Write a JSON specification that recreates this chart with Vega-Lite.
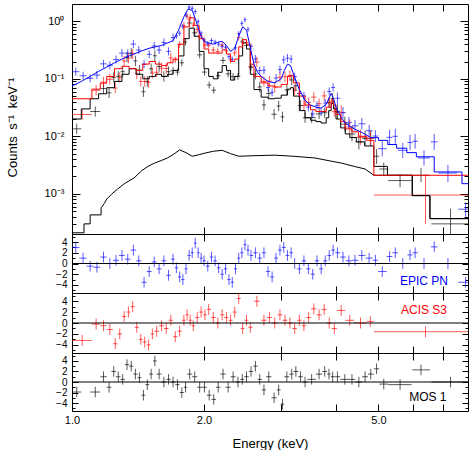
{
"$schema": "https://vega.github.io/schema/vega-lite/v6.json",
"padding": {"left": 5, "top": 3, "right": 5, "bottom": 0},
"background": "white",
"spacing": 0,
"bounds": "flush",
"config": {
 "view": {"stroke": "#000000", "strokeWidth": 1},
 "axis": {"domain": false, "grid": false, "tickColor": "#000000", "tickWidth": 1, "labelColor": "#000000", "labelFont": "Liberation Sans", "labelFontSize": 11, "titleFont": "Liberation Sans", "titleFontWeight": "normal", "titleFontSize": 13, "titleColor": "#000000", "labelOverlap": false, "labelFlush": false, "labelBound": false},
 "text": {"font": "Liberation Sans"}
},
"datasets": {
 "pts": [
{"s":"MOS","e":1.025,"a":1.0,"b":1.05,"y":0.0135,"lo":0.011,"hi":0.0166,"r":-1.9,"rl":-2.9,"rh":-0.9},
{"s":"MOS","e":1.13,"a":1.1,"b":1.16,"y":0.027,"lo":0.022,"hi":0.033,"r":-1.9,"rl":-2.9,"rh":-0.9},
{"s":"MOS","e":1.18,"a":1.16,"b":1.2,"y":0.0677,"lo":0.055,"hi":0.0833,"r":1,"rl":0,"rh":2},
{"s":"MOS","e":1.215,"a":1.2,"b":1.23,"y":0.0569,"lo":0.0463,"hi":0.07,"r":-1,"rl":-2,"rh":0},
{"s":"MOS","e":1.245,"a":1.23,"b":1.26,"y":0.106,"lo":0.086,"hi":0.13,"r":2,"rl":1,"rh":3},
{"s":"MOS","e":1.275,"a":1.26,"b":1.29,"y":0.111,"lo":0.09,"hi":0.136,"r":1,"rl":0,"rh":2},
{"s":"MOS","e":1.305,"a":1.29,"b":1.32,"y":0.133,"lo":0.108,"hi":0.164,"r":0.5,"rl":-0.5,"rh":1.5},
{"s":"MOS","e":1.335,"a":1.32,"b":1.35,"y":0.238,"lo":0.193,"hi":0.292,"r":3.3,"rl":2.3,"rh":4.3},
{"s":"MOS","e":1.365,"a":1.35,"b":1.38,"y":0.279,"lo":0.227,"hi":0.344,"r":3,"rl":2,"rh":4},
{"s":"MOS","e":1.395,"a":1.38,"b":1.41,"y":0.205,"lo":0.166,"hi":0.252,"r":1.5,"rl":0.5,"rh":2.5},
{"s":"MOS","e":1.425,"a":1.41,"b":1.44,"y":0.142,"lo":0.115,"hi":0.174,"r":0.8,"rl":-0.2,"rh":1.8},
{"s":"MOS","e":1.455,"a":1.44,"b":1.47,"y":0.0596,"lo":0.0485,"hi":0.0733,"r":-2.5,"rl":-3.5,"rh":-1.5},
{"s":"MOS","e":1.485,"a":1.47,"b":1.5,"y":0.09,"lo":0.0733,"hi":0.111,"r":-0.5,"rl":-1.5,"rh":0.5},
{"s":"MOS","e":1.515,"a":1.5,"b":1.53,"y":0.15,"lo":0.122,"hi":0.185,"r":1.5,"rl":0.5,"rh":2.5},
{"s":"MOS","e":1.545,"a":1.53,"b":1.56,"y":0.252,"lo":0.205,"hi":0.31,"r":4,"rl":3,"rh":5},
{"s":"MOS","e":1.58,"a":1.56,"b":1.6,"y":0.164,"lo":0.133,"hi":0.201,"r":1.5,"rl":0.5,"rh":2.5},
{"s":"MOS","e":1.62,"a":1.6,"b":1.64,"y":0.11,"lo":0.0894,"hi":0.135,"r":0,"rl":-1,"rh":1},
{"s":"MOS","e":1.66,"a":1.64,"b":1.68,"y":0.133,"lo":0.108,"hi":0.164,"r":0.5,"rl":-0.5,"rh":1.5},
{"s":"MOS","e":1.7,"a":1.68,"b":1.72,"y":0.14,"lo":0.122,"hi":0.161,"r":0,"rl":-1,"rh":1},
{"s":"MOS","e":1.74,"a":1.72,"b":1.76,"y":0.131,"lo":0.114,"hi":0.15,"r":-0.5,"rl":-1.5,"rh":0.5},
{"s":"MOS","e":1.78,"a":1.76,"b":1.8,"y":0.19,"lo":0.165,"hi":0.218,"r":-2,"rl":-3,"rh":-1},
{"s":"MOS","e":1.815,"a":1.8,"b":1.83,"y":0.435,"lo":0.379,"hi":0.5,"r":-1,"rl":-2,"rh":0},
{"s":"MOS","e":1.855,"a":1.83,"b":1.88,"y":0.935,"lo":0.814,"hi":1.073,"r":1.5,"rl":0.5,"rh":2.5},
{"s":"MOS","e":1.905,"a":1.88,"b":1.93,"y":0.631,"lo":0.55,"hi":0.725,"r":1,"rl":0,"rh":2},
{"s":"MOS","e":1.955,"a":1.93,"b":1.98,"y":0.261,"lo":0.227,"hi":0.3,"r":-1,"rl":-2,"rh":0},
{"s":"MOS","e":2.005,"a":1.98,"b":2.03,"y":0.131,"lo":0.114,"hi":0.15,"r":-1,"rl":-2,"rh":0},
{"s":"MOS","e":2.055,"a":2.03,"b":2.08,"y":0.0779,"lo":0.0679,"hi":0.0894,"r":-2.5,"rl":-3.5,"rh":-1.5},
{"s":"MOS","e":2.105,"a":2.08,"b":2.13,"y":0.0634,"lo":0.0552,"hi":0.0728,"r":-3.3,"rl":-4.3,"rh":-2.3},
{"s":"MOS","e":2.155,"a":2.13,"b":2.18,"y":0.113,"lo":0.0985,"hi":0.13,"r":-1,"rl":-2,"rh":0},
{"s":"MOS","e":2.21,"a":2.18,"b":2.24,"y":0.209,"lo":0.182,"hi":0.24,"r":1.5,"rl":0.5,"rh":2.5},
{"s":"MOS","e":2.27,"a":2.24,"b":2.3,"y":0.122,"lo":0.106,"hi":0.14,"r":-1,"rl":-2,"rh":0},
{"s":"MOS","e":2.33,"a":2.3,"b":2.36,"y":0.109,"lo":0.095,"hi":0.125,"r":1,"rl":0,"rh":2},
{"s":"MOS","e":2.39,"a":2.36,"b":2.42,"y":0.11,"lo":0.0958,"hi":0.126,"r":0,"rl":-1,"rh":1},
{"s":"MOS","e":2.445,"a":2.42,"b":2.47,"y":0.45,"lo":0.392,"hi":0.517,"r":0.5,"rl":-0.5,"rh":1.5},
{"s":"MOS","e":2.5,"a":2.47,"b":2.53,"y":0.379,"lo":0.33,"hi":0.435,"r":1,"rl":0,"rh":2},
{"s":"MOS","e":2.56,"a":2.53,"b":2.59,"y":0.158,"lo":0.138,"hi":0.181,"r":2,"rl":1,"rh":3},
{"s":"MOS","e":2.62,"a":2.59,"b":2.65,"y":0.121,"lo":0.098,"hi":0.149,"r":3,"rl":2,"rh":4},
{"s":"MOS","e":2.68,"a":2.65,"b":2.71,"y":0.0721,"lo":0.0586,"hi":0.0887,"r":0.5,"rl":-0.5,"rh":1.5},
{"s":"MOS","e":2.74,"a":2.71,"b":2.77,"y":0.0352,"lo":0.0286,"hi":0.0433,"r":-1.5,"rl":-2.5,"rh":-0.5},
{"s":"MOS","e":2.81,"a":2.77,"b":2.85,"y":0.0554,"lo":0.045,"hi":0.0681,"r":1,"rl":0,"rh":2},
{"s":"MOS","e":2.89,"a":2.85,"b":2.93,"y":0.0242,"lo":0.0197,"hi":0.0298,"r":-3,"rl":-4,"rh":-2},
{"s":"MOS","e":2.96,"a":2.93,"b":2.99,"y":0.0337,"lo":0.0274,"hi":0.0414,"r":-1.5,"rl":-2.5,"rh":-0.5},
{"s":"MOS","e":3.02,"a":2.99,"b":3.05,"y":0.0218,"lo":0.0177,"hi":0.0268,"r":-4.2,"rl":-5.2,"rh":-3.2},
{"s":"MOS","e":3.09,"a":3.05,"b":3.13,"y":0.064,"lo":0.052,"hi":0.0787,"r":1,"rl":0,"rh":2},
{"s":"MOS","e":3.17,"a":3.13,"b":3.2,"y":0.0955,"lo":0.0777,"hi":0.117,"r":1.5,"rl":0.5,"rh":2.5},
{"s":"MOS","e":3.24,"a":3.2,"b":3.28,"y":0.0757,"lo":0.0615,"hi":0.0931,"r":2,"rl":1,"rh":3},
{"s":"MOS","e":3.32,"a":3.28,"b":3.36,"y":0.0344,"lo":0.028,"hi":0.0424,"r":1,"rl":0,"rh":2},
{"s":"MOS","e":3.4,"a":3.36,"b":3.44,"y":0.021,"lo":0.0171,"hi":0.0258,"r":0,"rl":-1,"rh":1},
{"s":"MOS","e":3.52,"a":3.44,"b":3.6,"y":0.0211,"lo":0.0171,"hi":0.0259,"r":0.5,"rl":-0.5,"rh":1.5},
{"s":"MOS","e":3.66,"a":3.6,"b":3.72,"y":0.0246,"lo":0.02,"hi":0.0302,"r":1.5,"rl":0.5,"rh":2.5},
{"s":"MOS","e":3.77,"a":3.72,"b":3.82,"y":0.0257,"lo":0.0209,"hi":0.0317,"r":2,"rl":1,"rh":3},
{"s":"MOS","e":3.855,"a":3.82,"b":3.89,"y":0.0382,"lo":0.0311,"hi":0.047,"r":1.5,"rl":0.5,"rh":2.5},
{"s":"MOS","e":3.93,"a":3.89,"b":3.97,"y":0.0455,"lo":0.037,"hi":0.056,"r":1,"rl":0,"rh":2},
{"s":"MOS","e":4.03,"a":3.97,"b":4.09,"y":0.027,"lo":0.02,"hi":0.0364,"r":1,"rl":0,"rh":2},
{"s":"MOS","e":4.19,"a":4.09,"b":4.28,"y":0.0163,"lo":0.0121,"hi":0.022,"r":0.5,"rl":-0.5,"rh":1.5},
{"s":"MOS","e":4.35,"a":4.28,"b":4.43,"y":0.011,"lo":0.0082,"hi":0.0149,"r":0.5,"rl":-0.5,"rh":1.5},
{"s":"MOS","e":4.51,"a":4.43,"b":4.59,"y":0.008,"lo":0.0059,"hi":0.0108,"r":0,"rl":-1,"rh":1},
{"s":"MOS","e":4.66,"a":4.59,"b":4.73,"y":0.0092,"lo":0.0068,"hi":0.0124,"r":1,"rl":0,"rh":2},
{"s":"MOS","e":4.8,"a":4.73,"b":4.88,"y":0.0092,"lo":0.0068,"hi":0.0124,"r":1.5,"rl":0.5,"rh":2.5},
{"s":"MOS","e":4.95,"a":4.88,"b":5.02,"y":0.0045,"lo":0.0033,"hi":0.006,"r":2.5,"rl":1.5,"rh":3.5},
{"s":"MOS","e":5.14,"a":5.02,"b":5.26,"y":0.0027,"lo":0.0021,"hi":0.0035,"r":-0.4,"rl":-1.4,"rh":0.6},
{"s":"MOS","e":5.6,"a":5.26,"b":5.95,"y":0.0017,"lo":0.0013,"hi":0.0022,"r":-0.5,"rl":-1.5,"rh":0.5},
{"s":"MOS","e":6.25,"a":5.97,"b":6.55,"y":0.0021,"lo":0.0016,"hi":0.0028,"r":2.3,"rl":1.3,"rh":3.3},
{"s":"MOS","e":7.3,"a":6.6,"b":8,"y":0.0003,"lo":0.00012,"hi":0.00055,"r":0,"rl":-1,"rh":1},
{"s":"ACIS","e":1.055,"a":1.0,"b":1.11,"y":0.024,"lo":0.0195,"hi":0.0295,"r":-3.2,"rl":-4.2,"rh":-2.2},
{"s":"ACIS","e":1.135,"a":1.11,"b":1.16,"y":0.0633,"lo":0.0515,"hi":0.0778,"r":-0.2,"rl":-1.2,"rh":0.8},
{"s":"ACIS","e":1.18,"a":1.16,"b":1.2,"y":0.0875,"lo":0.0711,"hi":0.108,"r":-0.5,"rl":-1.5,"rh":0.5},
{"s":"ACIS","e":1.22,"a":1.2,"b":1.24,"y":0.0983,"lo":0.08,"hi":0.121,"r":-1.2,"rl":-2.2,"rh":-0.2},
{"s":"ACIS","e":1.255,"a":1.24,"b":1.27,"y":0.069,"lo":0.056,"hi":0.085,"r":-3.8,"rl":-4.8,"rh":-2.8},
{"s":"ACIS","e":1.285,"a":1.27,"b":1.3,"y":0.106,"lo":0.086,"hi":0.13,"r":-2,"rl":-3,"rh":-1},
{"s":"ACIS","e":1.315,"a":1.3,"b":1.33,"y":0.205,"lo":0.167,"hi":0.252,"r":1.2,"rl":0.2,"rh":2.2},
{"s":"ACIS","e":1.345,"a":1.33,"b":1.36,"y":0.229,"lo":0.186,"hi":0.281,"r":2,"rl":1,"rh":3},
{"s":"ACIS","e":1.375,"a":1.36,"b":1.39,"y":0.27,"lo":0.22,"hi":0.332,"r":3,"rl":2,"rh":4},
{"s":"ACIS","e":1.405,"a":1.39,"b":1.42,"y":0.122,"lo":0.099,"hi":0.15,"r":-0.8,"rl":-1.8,"rh":0.2},
{"s":"ACIS","e":1.435,"a":1.42,"b":1.45,"y":0.09,"lo":0.073,"hi":0.111,"r":-3,"rl":-4,"rh":-2},
{"s":"ACIS","e":1.465,"a":1.45,"b":1.48,"y":0.09,"lo":0.073,"hi":0.111,"r":-3.5,"rl":-4.5,"rh":-2.5},
{"s":"ACIS","e":1.495,"a":1.48,"b":1.51,"y":0.0865,"lo":0.07,"hi":0.106,"r":-4,"rl":-5,"rh":-3},
{"s":"ACIS","e":1.525,"a":1.51,"b":1.54,"y":0.126,"lo":0.102,"hi":0.155,"r":-2,"rl":-3,"rh":-1},
{"s":"ACIS","e":1.56,"a":1.54,"b":1.58,"y":0.13,"lo":0.106,"hi":0.16,"r":-1.5,"rl":-2.5,"rh":-0.5},
{"s":"ACIS","e":1.6,"a":1.58,"b":1.62,"y":0.153,"lo":0.125,"hi":0.189,"r":-0.5,"rl":-1.5,"rh":0.5},
{"s":"ACIS","e":1.64,"a":1.62,"b":1.66,"y":0.151,"lo":0.123,"hi":0.186,"r":-1,"rl":-2,"rh":0},
{"s":"ACIS","e":1.68,"a":1.66,"b":1.7,"y":0.231,"lo":0.188,"hi":0.284,"r":0.5,"rl":-0.5,"rh":1.5},
{"s":"ACIS","e":1.72,"a":1.7,"b":1.74,"y":0.213,"lo":0.187,"hi":0.242,"r":-2.5,"rl":-3.5,"rh":-1.5},
{"s":"ACIS","e":1.76,"a":1.74,"b":1.78,"y":0.397,"lo":0.35,"hi":0.451,"r":-1.5,"rl":-2.5,"rh":-0.5},
{"s":"ACIS","e":1.8,"a":1.78,"b":1.815,"y":0.852,"lo":0.751,"hi":0.967,"r":0.5,"rl":-0.5,"rh":1.5},
{"s":"ACIS","e":1.83,"a":1.815,"b":1.845,"y":1.22,"lo":1.075,"hi":1.385,"r":1.5,"rl":0.5,"rh":2.5},
{"s":"ACIS","e":1.86,"a":1.845,"b":1.875,"y":1.161,"lo":1.023,"hi":1.318,"r":0.5,"rl":-0.5,"rh":1.5},
{"s":"ACIS","e":1.89,"a":1.875,"b":1.91,"y":0.854,"lo":0.753,"hi":0.97,"r":-0.5,"rl":-1.5,"rh":0.5},
{"s":"ACIS","e":1.93,"a":1.91,"b":1.95,"y":0.726,"lo":0.64,"hi":0.824,"r":1,"rl":0,"rh":2},
{"s":"ACIS","e":1.97,"a":1.95,"b":1.99,"y":0.556,"lo":0.49,"hi":0.632,"r":2,"rl":1,"rh":3},
{"s":"ACIS","e":2.01,"a":1.99,"b":2.03,"y":0.387,"lo":0.341,"hi":0.439,"r":1.5,"rl":0.5,"rh":2.5},
{"s":"ACIS","e":2.05,"a":2.03,"b":2.075,"y":0.384,"lo":0.338,"hi":0.436,"r":2.5,"rl":1.5,"rh":3.5},
{"s":"ACIS","e":2.1,"a":2.075,"b":2.125,"y":0.318,"lo":0.28,"hi":0.361,"r":1,"rl":0,"rh":2},
{"s":"ACIS","e":2.15,"a":2.125,"b":2.175,"y":0.3,"lo":0.264,"hi":0.341,"r":0,"rl":-1,"rh":1},
{"s":"ACIS","e":2.2,"a":2.175,"b":2.225,"y":0.387,"lo":0.341,"hi":0.439,"r":1.5,"rl":0.5,"rh":2.5},
{"s":"ACIS","e":2.25,"a":2.225,"b":2.275,"y":0.306,"lo":0.27,"hi":0.348,"r":1,"rl":0,"rh":2},
{"s":"ACIS","e":2.3,"a":2.275,"b":2.325,"y":0.213,"lo":0.188,"hi":0.242,"r":0.5,"rl":-0.5,"rh":1.5},
{"s":"ACIS","e":2.35,"a":2.325,"b":2.375,"y":0.283,"lo":0.25,"hi":0.322,"r":2,"rl":1,"rh":3},
{"s":"ACIS","e":2.4,"a":2.375,"b":2.425,"y":0.526,"lo":0.464,"hi":0.597,"r":4.5,"rl":3.5,"rh":5.5},
{"s":"ACIS","e":2.45,"a":2.425,"b":2.475,"y":0.423,"lo":0.373,"hi":0.48,"r":-1,"rl":-2,"rh":0},
{"s":"ACIS","e":2.5,"a":2.475,"b":2.525,"y":0.426,"lo":0.375,"hi":0.483,"r":0.5,"rl":-0.5,"rh":1.5},
{"s":"ACIS","e":2.55,"a":2.525,"b":2.58,"y":0.163,"lo":0.143,"hi":0.185,"r":-0.8,"rl":-1.8,"rh":0.2},
{"s":"ACIS","e":2.64,"a":2.6,"b":2.68,"y":0.196,"lo":0.159,"hi":0.241,"r":4,"rl":3,"rh":5},
{"s":"ACIS","e":2.74,"a":2.7,"b":2.78,"y":0.0898,"lo":0.073,"hi":0.11,"r":0.5,"rl":-0.5,"rh":1.5},
{"s":"ACIS","e":2.82,"a":2.78,"b":2.86,"y":0.091,"lo":0.074,"hi":0.112,"r":1,"rl":0,"rh":2},
{"s":"ACIS","e":2.9,"a":2.86,"b":2.94,"y":0.072,"lo":0.0585,"hi":0.0886,"r":0,"rl":-1,"rh":1},
{"s":"ACIS","e":2.98,"a":2.94,"b":3.02,"y":0.106,"lo":0.0865,"hi":0.131,"r":1.5,"rl":0.5,"rh":2.5},
{"s":"ACIS","e":3.06,"a":3.02,"b":3.1,"y":0.109,"lo":0.0883,"hi":0.134,"r":0.5,"rl":-0.5,"rh":1.5},
{"s":"ACIS","e":3.14,"a":3.1,"b":3.18,"y":0.114,"lo":0.093,"hi":0.14,"r":0,"rl":-1,"rh":1},
{"s":"ACIS","e":3.22,"a":3.18,"b":3.26,"y":0.0634,"lo":0.0515,"hi":0.078,"r":-1,"rl":-2,"rh":0},
{"s":"ACIS","e":3.3,"a":3.26,"b":3.34,"y":0.0555,"lo":0.0451,"hi":0.0682,"r":0.5,"rl":-0.5,"rh":1.5},
{"s":"ACIS","e":3.38,"a":3.34,"b":3.42,"y":0.0343,"lo":0.0279,"hi":0.0422,"r":-0.5,"rl":-1.5,"rh":0.5},
{"s":"ACIS","e":3.465,"a":3.42,"b":3.51,"y":0.0386,"lo":0.0314,"hi":0.0475,"r":1,"rl":0,"rh":2},
{"s":"ACIS","e":3.56,"a":3.51,"b":3.61,"y":0.048,"lo":0.039,"hi":0.059,"r":2.6,"rl":1.6,"rh":3.6},
{"s":"ACIS","e":3.66,"a":3.61,"b":3.71,"y":0.0369,"lo":0.03,"hi":0.0453,"r":1.5,"rl":0.5,"rh":2.5},
{"s":"ACIS","e":3.76,"a":3.71,"b":3.81,"y":0.0504,"lo":0.041,"hi":0.062,"r":2.5,"rl":1.5,"rh":3.5},
{"s":"ACIS","e":3.86,"a":3.81,"b":3.91,"y":0.0386,"lo":0.0314,"hi":0.0475,"r":0,"rl":-1,"rh":1},
{"s":"ACIS","e":3.965,"a":3.91,"b":4.02,"y":0.0268,"lo":0.0218,"hi":0.033,"r":-1,"rl":-2,"rh":0},
{"s":"ACIS","e":4.11,"a":4.02,"b":4.2,"y":0.0259,"lo":0.0192,"hi":0.0349,"r":2.3,"rl":1.3,"rh":3.3},
{"s":"ACIS","e":4.3,"a":4.2,"b":4.4,"y":0.0145,"lo":0.0108,"hi":0.0196,"r":0.5,"rl":-0.5,"rh":1.5},
{"s":"ACIS","e":4.55,"a":4.4,"b":4.7,"y":0.0096,"lo":0.0071,"hi":0.013,"r":0,"rl":-1,"rh":1},
{"s":"ACIS","e":4.79,"a":4.7,"b":4.88,"y":0.0093,"lo":0.0069,"hi":0.0125,"r":0.3,"rl":-0.7,"rh":1.3},
{"s":"ACIS","e":6.4,"a":4.88,"b":8,"y":0.00095,"lo":0.0003,"hi":0.0022,"r":-1.6,"rl":-2.6,"rh":-0.6},
{"s":"PN","e":1.02,"a":1.0,"b":1.04,"y":0.133,"lo":0.113,"hi":0.156,"r":3,"rl":2,"rh":4},
{"s":"PN","e":1.06,"a":1.04,"b":1.08,"y":0.113,"lo":0.096,"hi":0.133,"r":1,"rl":0,"rh":2},
{"s":"PN","e":1.1,"a":1.08,"b":1.12,"y":0.102,"lo":0.087,"hi":0.119,"r":-0.5,"rl":-1.5,"rh":0.5},
{"s":"PN","e":1.14,"a":1.12,"b":1.16,"y":0.116,"lo":0.099,"hi":0.136,"r":-0.7,"rl":-1.7,"rh":0.3},
{"s":"PN","e":1.18,"a":1.16,"b":1.2,"y":0.182,"lo":0.155,"hi":0.214,"r":1.2,"rl":0.2,"rh":2.2},
{"s":"PN","e":1.22,"a":1.2,"b":1.24,"y":0.172,"lo":0.146,"hi":0.202,"r":0,"rl":-1,"rh":1},
{"s":"PN","e":1.26,"a":1.24,"b":1.28,"y":0.216,"lo":0.184,"hi":0.254,"r":0.6,"rl":-0.4,"rh":1.6},
{"s":"PN","e":1.3,"a":1.28,"b":1.32,"y":0.28,"lo":0.238,"hi":0.329,"r":1.5,"rl":0.5,"rh":2.5},
{"s":"PN","e":1.34,"a":1.32,"b":1.36,"y":0.278,"lo":0.236,"hi":0.326,"r":0.8,"rl":-0.2,"rh":1.8},
{"s":"PN","e":1.38,"a":1.36,"b":1.4,"y":0.401,"lo":0.341,"hi":0.471,"r":2.5,"rl":1.5,"rh":3.5},
{"s":"PN","e":1.42,"a":1.4,"b":1.44,"y":0.316,"lo":0.269,"hi":0.372,"r":0.5,"rl":-0.5,"rh":1.5},
{"s":"PN","e":1.46,"a":1.44,"b":1.48,"y":0.18,"lo":0.153,"hi":0.211,"r":-3.5,"rl":-4.5,"rh":-2.5},
{"s":"PN","e":1.5,"a":1.48,"b":1.52,"y":0.267,"lo":0.227,"hi":0.314,"r":-1.5,"rl":-2.5,"rh":-0.5},
{"s":"PN","e":1.54,"a":1.52,"b":1.56,"y":0.374,"lo":0.318,"hi":0.439,"r":0.3,"rl":-0.7,"rh":1.3},
{"s":"PN","e":1.58,"a":1.56,"b":1.6,"y":0.317,"lo":0.27,"hi":0.372,"r":-1,"rl":-2,"rh":0},
{"s":"PN","e":1.62,"a":1.6,"b":1.64,"y":0.429,"lo":0.365,"hi":0.504,"r":0.5,"rl":-0.5,"rh":1.5},
{"s":"PN","e":1.66,"a":1.64,"b":1.68,"y":0.3,"lo":0.255,"hi":0.353,"r":-2.2,"rl":-3.2,"rh":-1.2},
{"s":"PN","e":1.7,"a":1.68,"b":1.715,"y":0.523,"lo":0.445,"hi":0.615,"r":0.8,"rl":-0.2,"rh":1.8},
{"s":"PN","e":1.73,"a":1.715,"b":1.745,"y":0.556,"lo":0.501,"hi":0.617,"r":-0.8,"rl":-1.8,"rh":0.2},
{"s":"PN","e":1.76,"a":1.745,"b":1.775,"y":0.618,"lo":0.557,"hi":0.685,"r":-2.5,"rl":-3.5,"rh":-1.5},
{"s":"PN","e":1.79,"a":1.775,"b":1.805,"y":0.806,"lo":0.727,"hi":0.894,"r":-3,"rl":-4,"rh":-2},
{"s":"PN","e":1.82,"a":1.805,"b":1.835,"y":1.285,"lo":1.159,"hi":1.425,"r":-1,"rl":-2,"rh":0},
{"s":"PN","e":1.85,"a":1.835,"b":1.865,"y":1.765,"lo":1.59,"hi":1.96,"r":1.5,"rl":0.5,"rh":2.5},
{"s":"PN","e":1.88,"a":1.865,"b":1.895,"y":1.68,"lo":1.52,"hi":1.87,"r":2,"rl":1,"rh":3},
{"s":"PN","e":1.91,"a":1.895,"b":1.925,"y":1.48,"lo":1.33,"hi":1.64,"r":3.8,"rl":2.8,"rh":4.8},
{"s":"PN","e":1.94,"a":1.925,"b":1.955,"y":0.984,"lo":0.887,"hi":1.091,"r":2,"rl":1,"rh":3},
{"s":"PN","e":1.97,"a":1.955,"b":1.985,"y":0.624,"lo":0.563,"hi":0.692,"r":1,"rl":0,"rh":2},
{"s":"PN","e":2.0,"a":1.985,"b":2.02,"y":0.474,"lo":0.427,"hi":0.526,"r":0.5,"rl":-0.5,"rh":1.5},
{"s":"PN","e":2.04,"a":2.02,"b":2.06,"y":0.405,"lo":0.365,"hi":0.449,"r":-0.5,"rl":-1.5,"rh":0.5},
{"s":"PN","e":2.08,"a":2.06,"b":2.1,"y":0.462,"lo":0.417,"hi":0.512,"r":1.2,"rl":0.2,"rh":2.2},
{"s":"PN","e":2.12,"a":2.1,"b":2.14,"y":0.434,"lo":0.391,"hi":0.481,"r":0.5,"rl":-0.5,"rh":1.5},
{"s":"PN","e":2.16,"a":2.14,"b":2.18,"y":0.399,"lo":0.36,"hi":0.443,"r":-0.8,"rl":-1.8,"rh":0.2},
{"s":"PN","e":2.2,"a":2.18,"b":2.22,"y":0.366,"lo":0.33,"hi":0.406,"r":-2,"rl":-3,"rh":-1},
{"s":"PN","e":2.24,"a":2.22,"b":2.26,"y":0.355,"lo":0.32,"hi":0.394,"r":-1,"rl":-2,"rh":0},
{"s":"PN","e":2.28,"a":2.26,"b":2.3,"y":0.243,"lo":0.219,"hi":0.27,"r":-3,"rl":-4,"rh":-2},
{"s":"PN","e":2.32,"a":2.3,"b":2.34,"y":0.22,"lo":0.198,"hi":0.244,"r":-3.5,"rl":-4.5,"rh":-2.5},
{"s":"PN","e":2.36,"a":2.34,"b":2.38,"y":0.345,"lo":0.311,"hi":0.382,"r":-1,"rl":-2,"rh":0},
{"s":"PN","e":2.4,"a":2.38,"b":2.42,"y":0.61,"lo":0.55,"hi":0.676,"r":1,"rl":0,"rh":2},
{"s":"PN","e":2.44,"a":2.42,"b":2.46,"y":0.923,"lo":0.832,"hi":1.023,"r":2,"rl":1,"rh":3},
{"s":"PN","e":2.48,"a":2.46,"b":2.5,"y":1.063,"lo":0.959,"hi":1.179,"r":3.5,"rl":2.5,"rh":4.5},
{"s":"PN","e":2.52,"a":2.5,"b":2.54,"y":0.726,"lo":0.655,"hi":0.805,"r":2.5,"rl":1.5,"rh":3.5},
{"s":"PN","e":2.56,"a":2.54,"b":2.59,"y":0.369,"lo":0.333,"hi":0.409,"r":1.5,"rl":0.5,"rh":2.5},
{"s":"PN","e":2.62,"a":2.59,"b":2.65,"y":0.221,"lo":0.188,"hi":0.26,"r":2,"rl":1,"rh":3},
{"s":"PN","e":2.68,"a":2.65,"b":2.71,"y":0.139,"lo":0.118,"hi":0.163,"r":1,"rl":0,"rh":2},
{"s":"PN","e":2.74,"a":2.71,"b":2.77,"y":0.141,"lo":0.12,"hi":0.166,"r":2,"rl":1,"rh":3},
{"s":"PN","e":2.8,"a":2.77,"b":2.83,"y":0.0707,"lo":0.0601,"hi":0.083,"r":-1.5,"rl":-2.5,"rh":-0.5},
{"s":"PN","e":2.86,"a":2.83,"b":2.89,"y":0.0581,"lo":0.0494,"hi":0.0683,"r":-2.5,"rl":-3.5,"rh":-1.5},
{"s":"PN","e":2.92,"a":2.89,"b":2.95,"y":0.103,"lo":0.088,"hi":0.121,"r":1,"rl":0,"rh":2},
{"s":"PN","e":2.98,"a":2.95,"b":3.01,"y":0.145,"lo":0.124,"hi":0.171,"r":2.5,"rl":1.5,"rh":3.5},
{"s":"PN","e":3.04,"a":3.01,"b":3.07,"y":0.214,"lo":0.182,"hi":0.252,"r":3,"rl":2,"rh":4},
{"s":"PN","e":3.1,"a":3.07,"b":3.13,"y":0.229,"lo":0.195,"hi":0.27,"r":1.5,"rl":0.5,"rh":2.5},
{"s":"PN","e":3.16,"a":3.13,"b":3.19,"y":0.221,"lo":0.188,"hi":0.259,"r":2,"rl":1,"rh":3},
{"s":"PN","e":3.22,"a":3.19,"b":3.26,"y":0.109,"lo":0.0928,"hi":0.128,"r":0,"rl":-1,"rh":1},
{"s":"PN","e":3.3,"a":3.26,"b":3.34,"y":0.0553,"lo":0.0471,"hi":0.065,"r":-1,"rl":-2,"rh":0},
{"s":"PN","e":3.38,"a":3.34,"b":3.42,"y":0.0505,"lo":0.043,"hi":0.0593,"r":0.5,"rl":-0.5,"rh":1.5},
{"s":"PN","e":3.46,"a":3.42,"b":3.5,"y":0.0322,"lo":0.0274,"hi":0.0378,"r":-1,"rl":-2,"rh":0},
{"s":"PN","e":3.54,"a":3.5,"b":3.58,"y":0.0245,"lo":0.0208,"hi":0.0288,"r":-2,"rl":-3,"rh":-1},
{"s":"PN","e":3.62,"a":3.58,"b":3.66,"y":0.0345,"lo":0.0293,"hi":0.0405,"r":0.5,"rl":-0.5,"rh":1.5},
{"s":"PN","e":3.7,"a":3.66,"b":3.74,"y":0.0264,"lo":0.0225,"hi":0.031,"r":-1,"rl":-2,"rh":0},
{"s":"PN","e":3.78,"a":3.74,"b":3.82,"y":0.0379,"lo":0.0323,"hi":0.0446,"r":0.5,"rl":-0.5,"rh":1.5},
{"s":"PN","e":3.86,"a":3.82,"b":3.9,"y":0.0601,"lo":0.0512,"hi":0.0707,"r":1.5,"rl":0.5,"rh":2.5},
{"s":"PN","e":3.94,"a":3.9,"b":3.98,"y":0.0706,"lo":0.0601,"hi":0.083,"r":2.5,"rl":1.5,"rh":3.5},
{"s":"PN","e":4.03,"a":3.98,"b":4.09,"y":0.046,"lo":0.0365,"hi":0.0579,"r":2,"rl":1,"rh":3},
{"s":"PN","e":4.15,"a":4.09,"b":4.21,"y":0.0257,"lo":0.0204,"hi":0.0324,"r":1.2,"rl":0.2,"rh":2.2},
{"s":"PN","e":4.28,"a":4.21,"b":4.35,"y":0.0173,"lo":0.0137,"hi":0.0218,"r":0.5,"rl":-0.5,"rh":1.5},
{"s":"PN","e":4.42,"a":4.35,"b":4.5,"y":0.0153,"lo":0.0121,"hi":0.0192,"r":0.6,"rl":-0.4,"rh":1.6},
{"s":"PN","e":4.58,"a":4.5,"b":4.67,"y":0.0165,"lo":0.0131,"hi":0.0208,"r":1.5,"rl":0.5,"rh":2.5},
{"s":"PN","e":4.76,"a":4.67,"b":4.85,"y":0.0125,"lo":0.0099,"hi":0.0157,"r":1,"rl":0,"rh":2},
{"s":"PN","e":4.92,"a":4.85,"b":4.99,"y":0.0101,"lo":0.008,"hi":0.0127,"r":0.6,"rl":-0.4,"rh":1.6},
{"s":"PN","e":5.1,"a":4.99,"b":5.22,"y":0.0061,"lo":0.0045,"hi":0.0082,"r":-1.5,"rl":-2.5,"rh":-0.5},
{"s":"PN","e":5.3,"a":5.22,"b":5.38,"y":0.0096,"lo":0.0071,"hi":0.013,"r":1.3,"rl":0.3,"rh":2.3},
{"s":"PN","e":5.46,"a":5.38,"b":5.54,"y":0.01,"lo":0.0074,"hi":0.0135,"r":2,"rl":1,"rh":3},
{"s":"PN","e":5.68,"a":5.54,"b":5.82,"y":0.0057,"lo":0.0042,"hi":0.0077,"r":0,"rl":-1,"rh":1},
{"s":"PN","e":5.9,"a":5.82,"b":5.98,"y":0.0078,"lo":0.0058,"hi":0.0106,"r":1.6,"rl":0.6,"rh":2.6},
{"s":"PN","e":6.06,"a":5.98,"b":6.15,"y":0.0082,"lo":0.0061,"hi":0.011,"r":2,"rl":1,"rh":3},
{"s":"PN","e":6.35,"a":6.15,"b":6.55,"y":0.0042,"lo":0.0031,"hi":0.0057,"r":0,"rl":-1,"rh":1},
{"s":"PN","e":6.7,"a":6.58,"b":6.82,"y":0.008,"lo":0.0058,"hi":0.011,"r":3.1,"rl":2.1,"rh":4.1},
{"s":"PN","e":7.2,"a":6.85,"b":7.55,"y":0.0023,"lo":0.0016,"hi":0.0032,"r":0,"rl":-1,"rh":1},
{"s":"PN","e":7.9,"a":7.6,"b":8,"y":0.00054,"lo":0.0004,"hi":0.0007,"r":-3.5,"rl":-4.5,"rh":-2.5}
 ],
 "mod": [
{"s":"MOS","e":1.0,"v":0.02},{"s":"MOS","e":1.05,"v":0.03},{"s":"MOS","e":1.1,"v":0.045},{"s":"MOS","e":1.15,"v":0.055},{"s":"MOS","e":1.2,"v":0.07},{"s":"MOS","e":1.25,"v":0.09},{"s":"MOS","e":1.3,"v":0.12},{"s":"MOS","e":1.35,"v":0.15},{"s":"MOS","e":1.4,"v":0.12},{"s":"MOS","e":1.45,"v":0.1},{"s":"MOS","e":1.5,"v":0.11},{"s":"MOS","e":1.55,"v":0.12},{"s":"MOS","e":1.6,"v":0.11},{"s":"MOS","e":1.65,"v":0.12},{"s":"MOS","e":1.7,"v":0.14},{"s":"MOS","e":1.75,"v":0.25},{"s":"MOS","e":1.8,"v":0.5},{"s":"MOS","e":1.85,"v":0.76},{"s":"MOS","e":1.9,"v":0.55},{"s":"MOS","e":1.95,"v":0.3},{"s":"MOS","e":2.0,"v":0.15},{"s":"MOS","e":2.05,"v":0.11},{"s":"MOS","e":2.1,"v":0.1},{"s":"MOS","e":2.15,"v":0.13},{"s":"MOS","e":2.2,"v":0.17},{"s":"MOS","e":2.25,"v":0.14},{"s":"MOS","e":2.3,"v":0.095},{"s":"MOS","e":2.35,"v":0.11},{"s":"MOS","e":2.4,"v":0.25},{"s":"MOS","e":2.45,"v":0.42},{"s":"MOS","e":2.5,"v":0.33},{"s":"MOS","e":2.55,"v":0.12},{"s":"MOS","e":2.6,"v":0.065},{"s":"MOS","e":2.7,"v":0.048},{"s":"MOS","e":2.8,"v":0.045},{"s":"MOS","e":2.9,"v":0.046},{"s":"MOS","e":3.0,"v":0.052},{"s":"MOS","e":3.1,"v":0.066},{"s":"MOS","e":3.15,"v":0.07},{"s":"MOS","e":3.2,"v":0.05},{"s":"MOS","e":3.3,"v":0.028},{"s":"MOS","e":3.4,"v":0.021},{"s":"MOS","e":3.5,"v":0.019},{"s":"MOS","e":3.6,"v":0.018},{"s":"MOS","e":3.7,"v":0.017},{"s":"MOS","e":3.8,"v":0.021},{"s":"MOS","e":3.85,"v":0.028},{"s":"MOS","e":3.9,"v":0.037},{"s":"MOS","e":3.95,"v":0.03},{"s":"MOS","e":4.0,"v":0.02},{"s":"MOS","e":4.1,"v":0.014},{"s":"MOS","e":4.2,"v":0.011},{"s":"MOS","e":4.3,"v":0.0095},{"s":"MOS","e":4.45,"v":0.008},{"s":"MOS","e":4.65,"v":0.0068},{"s":"MOS","e":4.88,"v":0.003},{"s":"MOS","e":5.24,"v":0.0021},{"s":"MOS","e":5.97,"v":0.00093},{"s":"MOS","e":6.55,"v":0.00037},{"s":"MOS","e":8.0,"v":0.00037},
{"s":"ACIS","e":1.0,"v":0.045},{"s":"ACIS","e":1.11,"v":0.066},{"s":"ACIS","e":1.16,"v":0.084},{"s":"ACIS","e":1.2,"v":0.11},{"s":"ACIS","e":1.25,"v":0.15},{"s":"ACIS","e":1.3,"v":0.165},{"s":"ACIS","e":1.35,"v":0.15},{"s":"ACIS","e":1.4,"v":0.14},{"s":"ACIS","e":1.45,"v":0.18},{"s":"ACIS","e":1.5,"v":0.2},{"s":"ACIS","e":1.55,"v":0.18},{"s":"ACIS","e":1.6,"v":0.17},{"s":"ACIS","e":1.65,"v":0.19},{"s":"ACIS","e":1.7,"v":0.22},{"s":"ACIS","e":1.75,"v":0.4},{"s":"ACIS","e":1.8,"v":0.8},{"s":"ACIS","e":1.85,"v":1.15},{"s":"ACIS","e":1.9,"v":0.85},{"s":"ACIS","e":1.95,"v":0.5},{"s":"ACIS","e":2.0,"v":0.33},{"s":"ACIS","e":2.05,"v":0.28},{"s":"ACIS","e":2.1,"v":0.28},{"s":"ACIS","e":2.2,"v":0.32},{"s":"ACIS","e":2.25,"v":0.27},{"s":"ACIS","e":2.3,"v":0.2},{"s":"ACIS","e":2.35,"v":0.22},{"s":"ACIS","e":2.4,"v":0.36},{"s":"ACIS","e":2.45,"v":0.48},{"s":"ACIS","e":2.5,"v":0.4},{"s":"ACIS","e":2.55,"v":0.18},{"s":"ACIS","e":2.6,"v":0.11},{"s":"ACIS","e":2.7,"v":0.085},{"s":"ACIS","e":2.8,"v":0.075},{"s":"ACIS","e":2.9,"v":0.072},{"s":"ACIS","e":3.0,"v":0.08},{"s":"ACIS","e":3.1,"v":0.11},{"s":"ACIS","e":3.15,"v":0.115},{"s":"ACIS","e":3.2,"v":0.085},{"s":"ACIS","e":3.3,"v":0.05},{"s":"ACIS","e":3.4,"v":0.035},{"s":"ACIS","e":3.5,"v":0.029},{"s":"ACIS","e":3.6,"v":0.027},{"s":"ACIS","e":3.7,"v":0.027},{"s":"ACIS","e":3.8,"v":0.032},{"s":"ACIS","e":3.9,"v":0.043},{"s":"ACIS","e":3.95,"v":0.035},{"s":"ACIS","e":4.0,"v":0.024},{"s":"ACIS","e":4.1,"v":0.018},{"s":"ACIS","e":4.2,"v":0.0135},{"s":"ACIS","e":4.35,"v":0.012},{"s":"ACIS","e":4.5,"v":0.01},{"s":"ACIS","e":4.7,"v":0.0085},{"s":"ACIS","e":4.88,"v":0.0021},{"s":"ACIS","e":8.0,"v":0.0021}
 ],
 "modb": [
{"e":1.0,"v":0.075},{"e":1.05,"v":0.09},{"e":1.1,"v":0.11},{"e":1.15,"v":0.135},{"e":1.2,"v":0.16},{"e":1.25,"v":0.19},{"e":1.3,"v":0.22},{"e":1.35,"v":0.25},{"e":1.4,"v":0.28},{"e":1.45,"v":0.31},{"e":1.5,"v":0.34},{"e":1.55,"v":0.36},{"e":1.6,"v":0.38},{"e":1.65,"v":0.42},{"e":1.7,"v":0.46},{"e":1.75,"v":0.7},{"e":1.8,"v":1.2},{"e":1.84,"v":1.65},{"e":1.88,"v":1.55},{"e":1.92,"v":1.0},{"e":1.96,"v":0.6},{"e":2.0,"v":0.45},{"e":2.05,"v":0.42},{"e":2.1,"v":0.4},{"e":2.15,"v":0.43},{"e":2.2,"v":0.45},{"e":2.25,"v":0.38},{"e":2.3,"v":0.3},{"e":2.35,"v":0.34},{"e":2.4,"v":0.55},{"e":2.45,"v":0.8},{"e":2.5,"v":0.7},{"e":2.55,"v":0.35},{"e":2.6,"v":0.18},{"e":2.65,"v":0.13},{"e":2.7,"v":0.11},{"e":2.8,"v":0.09},{"e":2.9,"v":0.085},{"e":3.0,"v":0.1},{"e":3.05,"v":0.14},{"e":3.1,"v":0.18},{"e":3.15,"v":0.17},{"e":3.2,"v":0.12},{"e":3.3,"v":0.065},{"e":3.4,"v":0.042},{"e":3.5,"v":0.035},{"e":3.6,"v":0.032},{"e":3.7,"v":0.031},{"e":3.8,"v":0.036},{"e":3.85,"v":0.045},{"e":3.9,"v":0.056},{"e":3.95,"v":0.045},{"e":4.0,"v":0.032},{"e":4.1,"v":0.022},{"e":4.2,"v":0.017},{"e":4.3,"v":0.015},{"e":4.4,"v":0.0135},{"e":4.6,"v":0.0115},{"e":4.8,"v":0.0095},{"e":5.0,"v":0.0095},{"e":5.0,"v":0.0085},{"e":5.25,"v":0.0085},{"e":5.25,"v":0.0072},{"e":5.5,"v":0.0072},{"e":5.5,"v":0.0062},{"e":5.8,"v":0.0062},{"e":5.8,"v":0.0052},{"e":6.1,"v":0.0052},{"e":6.1,"v":0.0044},{"e":6.7,"v":0.0044},{"e":6.7,"v":0.0024},{"e":7.75,"v":0.0024},{"e":7.75,"v":0.0015},{"e":8.0,"v":0.0015}
 ],
 "comp": [
{"e":1.0,"v":0.00021},{"e":1.065,"v":0.00021},{"e":1.065,"v":0.0003},{"e":1.1,"v":0.0003},{"e":1.1,"v":0.00043},{"e":1.165,"v":0.00043},{"e":1.165,"v":0.00057},{"e":1.185,"v":0.00068},{"e":1.2,"v":0.00081},{"e":1.23,"v":0.00098},{"e":1.27,"v":0.00121},{"e":1.32,"v":0.00152},{"e":1.385,"v":0.00188},{"e":1.44,"v":0.0025},{"e":1.49,"v":0.003},{"e":1.54,"v":0.0034},{"e":1.6,"v":0.0038},{"e":1.65,"v":0.0042},{"e":1.7,"v":0.0048},{"e":1.76,"v":0.0058},{"e":1.82,"v":0.0052},{"e":1.88,"v":0.0045},{"e":1.95,"v":0.0048},{"e":2.01,"v":0.0051},{"e":2.1,"v":0.0055},{"e":2.2,"v":0.0057},{"e":2.3,"v":0.005},{"e":2.4,"v":0.0045},{"e":2.6,"v":0.0046},{"e":2.9,"v":0.0047},{"e":3.2,"v":0.0045},{"e":3.58,"v":0.0042},{"e":3.9,"v":0.0037},{"e":4.13,"v":0.0034},{"e":4.4,"v":0.003},{"e":4.66,"v":0.0027},{"e":4.88,"v":0.0021},{"e":5.97,"v":0.0021},{"e":5.97,"v":0.00093},{"e":6.55,"v":0.00093},{"e":6.55,"v":0.00037},{"e":8.0,"v":0.00037}
 ]
},
"vconcat": [
 {
  "width": 396, "height": 230,
  "layer": [
   {"data": {"name": "pts"}, "mark": {"type": "rule", "clip": true, "opacity": 0.65, "strokeWidth": 1},
    "encoding": {
     "x": {"field": "a", "type": "quantitative", "scale": {"type": "log", "domain": [1, 8], "nice": false}, "axis": {"orient": "bottom", "values": [2,3,4,5,6,7], "labels": false, "tickSize": -7, "title": null}},
     "x2": {"field": "b"},
     "y": {"field": "y", "type": "quantitative", "scale": {"type": "log", "domain": [0.0002, 2], "nice": false}, "axis": {"orient": "left", "values": [0.001, 0.01, 0.1, 1], "tickSize": -8, "labelPadding": 16, "labelFontSize": 11, "labelExpr": "datum.value > 0.5 ? '10\u2070' : datum.value > 0.05 ? '10\u207b\u00b9' : datum.value > 0.005 ? '10\u207b\u00b2' : '10\u207b\u00b3'", "title": "Counts\u2002s\u207b\u00b9\u2002keV\u207b\u00b9", "titlePadding": 25, "titleY": 123}},
     "color": {"field": "s", "type": "nominal", "scale": {"domain": ["PN", "ACIS", "MOS"], "range": ["#0000ff", "#ff0000", "#000000"]}, "legend": null}
    }},
   {"data": {"name": "pts"}, "mark": {"type": "rule", "clip": true, "opacity": 0.65, "strokeWidth": 1},
    "encoding": {
     "x": {"field": "e", "type": "quantitative", "scale": {"type": "log", "domain": [1, 8], "nice": false}, "axis": {"orient": "top", "values": [2,3,4,5,6,7], "labels": false, "tickSize": -7, "title": null}},
     "y": {"field": "lo", "type": "quantitative", "scale": {"type": "log", "domain": [0.0002, 2], "nice": false}, "axis": {"orient": "right", "values": [0.001, 0.01, 0.1, 1], "labels": false, "tickSize": -8, "title": null}},
     "y2": {"field": "hi"},
     "color": {"field": "s", "type": "nominal", "scale": {"domain": ["PN", "ACIS", "MOS"], "range": ["#0000ff", "#ff0000", "#000000"]}, "legend": null}
    }},
   {"data": {"name": "comp"}, "mark": {"type": "line", "clip": true, "color": "#000000", "strokeWidth": 1},
    "encoding": {
     "x": {"field": "e", "type": "quantitative", "scale": {"type": "log", "domain": [1, 8], "nice": false}, "axis": null},
     "y": {"field": "v", "type": "quantitative", "scale": {"type": "log", "domain": [0.0002, 2], "nice": false}, "axis": {"orient": "left", "values": [0.0003,0.0004,0.0005,0.0006,0.0007,0.0008,0.0009,0.002,0.003,0.004,0.005,0.006,0.007,0.008,0.009,0.02,0.03,0.04,0.05,0.06,0.07,0.08,0.09,0.2,0.3,0.4,0.5,0.6,0.7,0.8,0.9], "labels": false, "tickSize": -4, "title": null}}
    }},
   {"data": {"name": "mod"}, "mark": {"type": "line", "clip": true, "strokeWidth": 1, "interpolate": "step-after"},
    "encoding": {
     "x": {"field": "e", "type": "quantitative", "scale": {"type": "log", "domain": [1, 8], "nice": false}, "axis": null},
     "y": {"field": "v", "type": "quantitative", "scale": {"type": "log", "domain": [0.0002, 2], "nice": false}, "axis": {"orient": "right", "values": [0.0003,0.0004,0.0005,0.0006,0.0007,0.0008,0.0009,0.002,0.003,0.004,0.005,0.006,0.007,0.008,0.009,0.02,0.03,0.04,0.05,0.06,0.07,0.08,0.09,0.2,0.3,0.4,0.5,0.6,0.7,0.8,0.9], "labels": false, "tickSize": -4, "title": null}},
     "color": {"field": "s", "type": "nominal", "scale": {"domain": ["PN", "ACIS", "MOS"], "range": ["#0000ff", "#ff0000", "#000000"]}, "legend": null}
    }},
   {"data": {"name": "modb"}, "mark": {"type": "line", "clip": true, "color": "#0000ff", "strokeWidth": 1},
    "encoding": {
     "x": {"field": "e", "type": "quantitative", "scale": {"type": "log", "domain": [1, 8], "nice": false}, "axis": null},
     "y": {"field": "v", "type": "quantitative", "scale": {"type": "log", "domain": [0.0002, 2], "nice": false}, "axis": null}
    }}
  ],
  "resolve": {"axis": {"x": "independent", "y": "independent"}}
 },
 {
  "width": 396, "height": 59,
  "layer": [
   {"data": {"name": "pts"}, "transform": [{"filter": "datum.s == 'PN'"}], "mark": {"type": "rule", "clip": true, "color": "#0000ff", "opacity": 0.65},
    "encoding": {
     "x": {"field": "a", "type": "quantitative", "scale": {"type": "log", "domain": [1, 8], "nice": false}, "axis": {"orient": "bottom", "values": [2,3,4,5,6,7], "labels": false, "tickSize": -7, "title": null}},
     "x2": {"field": "b"},
     "y": {"field": "r", "type": "quantitative", "scale": {"domain": [-5.5, 5.5], "nice": false, "zero": false}, "axis": {"orient": "left", "values": [-4, -2, 0, 2, 4], "format": "d", "tickSize": -6, "labelPadding": 11, "labelFontSize": 10, "title": null}}
    }},
   {"data": {"name": "pts"}, "transform": [{"filter": "datum.s == 'PN'"}], "mark": {"type": "rule", "clip": true, "color": "#0000ff", "opacity": 0.65},
    "encoding": {
     "x": {"field": "e", "type": "quantitative", "scale": {"type": "log", "domain": [1, 8], "nice": false}, "axis": {"orient": "top", "values": [2,3,4,5,6,7], "labels": false, "tickSize": -7, "title": null}},
     "y": {"field": "rl", "type": "quantitative", "scale": {"domain": [-5.5, 5.5], "nice": false, "zero": false}, "axis": {"orient": "right", "values": [-4, -2, 0, 2, 4], "labels": false, "tickSize": -6, "title": null}},
     "y2": {"field": "rh"}
    }},
   {"data": {"values": [{"z": 0}]}, "mark": {"type": "rule", "color": "#000000", "strokeWidth": 1},
    "encoding": {"y": {"field": "z", "type": "quantitative", "scale": {"domain": [-5.5, 5.5], "nice": false, "zero": false}, "axis": {"orient": "left", "values": [-5, -3, -1, 1, 3, 5], "labels": false, "tickSize": -3, "title": null}}}},
   {"data": {"values": [{"t": "EPIC PN", "e": 6.35, "r": -3.2}]}, "mark": {"type": "text", "color": "#0000ff", "fontSize": 12, "font": "Liberation Sans"},
    "encoding": {
     "x": {"field": "e", "type": "quantitative", "scale": {"type": "log", "domain": [1, 8], "nice": false}, "axis": null},
     "y": {"field": "r", "type": "quantitative", "scale": {"domain": [-5.5, 5.5], "nice": false, "zero": false}, "axis": {"orient": "right", "values": [-5, -3, -1, 1, 3, 5], "labels": false, "tickSize": -3, "title": null}},
     "text": {"field": "t"}
    }}
  ],
  "resolve": {"axis": {"x": "independent", "y": "independent"}}
 },
 {
  "width": 396, "height": 60,
  "layer": [
   {"data": {"name": "pts"}, "transform": [{"filter": "datum.s == 'ACIS'"}], "mark": {"type": "rule", "clip": true, "color": "#ff0000", "opacity": 0.65},
    "encoding": {
     "x": {"field": "a", "type": "quantitative", "scale": {"type": "log", "domain": [1, 8], "nice": false}, "axis": {"orient": "bottom", "values": [2,3,4,5,6,7], "labels": false, "tickSize": -7, "title": null}},
     "x2": {"field": "b"},
     "y": {"field": "r", "type": "quantitative", "scale": {"domain": [-5.5, 5.5], "nice": false, "zero": false}, "axis": {"orient": "left", "values": [-4, -2, 0, 2, 4], "format": "d", "tickSize": -6, "labelPadding": 11, "labelFontSize": 10, "title": null}}
    }},
   {"data": {"name": "pts"}, "transform": [{"filter": "datum.s == 'ACIS'"}], "mark": {"type": "rule", "clip": true, "color": "#ff0000", "opacity": 0.65},
    "encoding": {
     "x": {"field": "e", "type": "quantitative", "scale": {"type": "log", "domain": [1, 8], "nice": false}, "axis": {"orient": "top", "values": [2,3,4,5,6,7], "labels": false, "tickSize": -7, "title": null}},
     "y": {"field": "rl", "type": "quantitative", "scale": {"domain": [-5.5, 5.5], "nice": false, "zero": false}, "axis": {"orient": "right", "values": [-4, -2, 0, 2, 4], "labels": false, "tickSize": -6, "title": null}},
     "y2": {"field": "rh"}
    }},
   {"data": {"values": [{"z": 0}]}, "mark": {"type": "rule", "color": "#000000", "strokeWidth": 1},
    "encoding": {"y": {"field": "z", "type": "quantitative", "scale": {"domain": [-5.5, 5.5], "nice": false, "zero": false}, "axis": {"orient": "left", "values": [-5, -3, -1, 1, 3, 5], "labels": false, "tickSize": -3, "title": null}}}},
   {"data": {"values": [{"t": "ACIS S3", "e": 6.35, "r": 2.3}]}, "mark": {"type": "text", "color": "#ff0000", "fontSize": 12, "font": "Liberation Sans"},
    "encoding": {
     "x": {"field": "e", "type": "quantitative", "scale": {"type": "log", "domain": [1, 8], "nice": false}, "axis": null},
     "y": {"field": "r", "type": "quantitative", "scale": {"domain": [-5.5, 5.5], "nice": false, "zero": false}, "axis": {"orient": "right", "values": [-5, -3, -1, 1, 3, 5], "labels": false, "tickSize": -3, "title": null}},
     "text": {"field": "t"}
    }}
  ],
  "resolve": {"axis": {"x": "independent", "y": "independent"}}
 },
 {
  "width": 396, "height": 58,
  "layer": [
   {"data": {"name": "pts"}, "transform": [{"filter": "datum.s == 'MOS'"}], "mark": {"type": "rule", "clip": true, "color": "#000000", "opacity": 0.65},
    "encoding": {
     "x": {"field": "a", "type": "quantitative", "scale": {"type": "log", "domain": [1, 8], "nice": false}, "axis": {"orient": "bottom", "values": [1,2,3,4,5,6,7], "tickSize": -7, "labelPadding": 10, "labelFontSize": 11, "labelExpr": "datum.value == 1 ? '1.0' : datum.value == 2 ? '2.0' : datum.value == 5 ? '5.0' : ''", "title": "Energy (keV)", "titlePadding": 12}},
     "x2": {"field": "b"},
     "y": {"field": "r", "type": "quantitative", "scale": {"domain": [-5.5, 5.5], "nice": false, "zero": false}, "axis": {"orient": "left", "values": [-4, -2, 0, 2, 4], "format": "d", "tickSize": -6, "labelPadding": 11, "labelFontSize": 10, "title": null}}
    }},
   {"data": {"name": "pts"}, "transform": [{"filter": "datum.s == 'MOS'"}], "mark": {"type": "rule", "clip": true, "color": "#000000", "opacity": 0.65},
    "encoding": {
     "x": {"field": "e", "type": "quantitative", "scale": {"type": "log", "domain": [1, 8], "nice": false}, "axis": {"orient": "top", "values": [2,3,4,5,6,7], "labels": false, "tickSize": -7, "title": null}},
     "y": {"field": "rl", "type": "quantitative", "scale": {"domain": [-5.5, 5.5], "nice": false, "zero": false}, "axis": {"orient": "right", "values": [-4, -2, 0, 2, 4], "labels": false, "tickSize": -6, "title": null}},
     "y2": {"field": "rh"}
    }},
   {"data": {"values": [{"z": 0}]}, "mark": {"type": "rule", "color": "#000000", "strokeWidth": 1},
    "encoding": {"y": {"field": "z", "type": "quantitative", "scale": {"domain": [-5.5, 5.5], "nice": false, "zero": false}, "axis": {"orient": "left", "values": [-5, -3, -1, 1, 3, 5], "labels": false, "tickSize": -3, "title": null}}}},
   {"data": {"values": [{"t": "MOS 1", "e": 6.48, "r": -2.85}]}, "mark": {"type": "text", "color": "#000000", "fontSize": 12, "font": "Liberation Sans"},
    "encoding": {
     "x": {"field": "e", "type": "quantitative", "scale": {"type": "log", "domain": [1, 8], "nice": false}, "axis": null},
     "y": {"field": "r", "type": "quantitative", "scale": {"domain": [-5.5, 5.5], "nice": false, "zero": false}, "axis": {"orient": "right", "values": [-5, -3, -1, 1, 3, 5], "labels": false, "tickSize": -3, "title": null}},
     "text": {"field": "t"}
    }}
  ],
  "resolve": {"axis": {"x": "independent", "y": "independent"}}
 }
]
}
